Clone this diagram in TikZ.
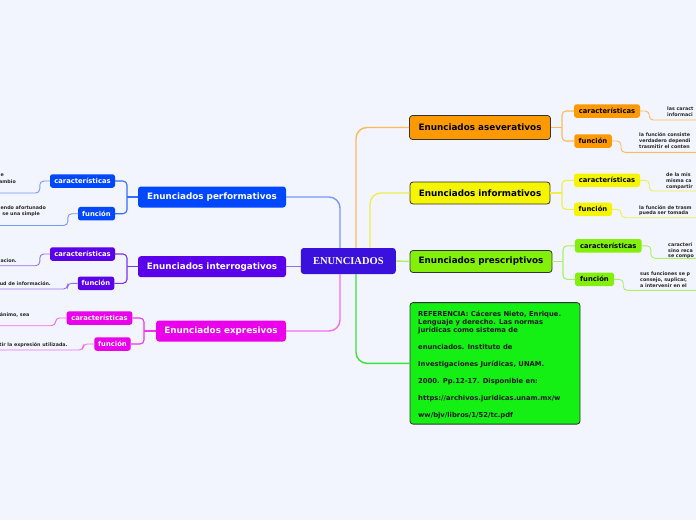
\documentclass[tikz,border=0pt]{standalone}
\usepackage{fontspec}
\setmainfont{DejaVu Sans}
\newfontfamily\titlefont{Liberation Serif}
\definecolor{bg}{RGB}{243,245,254}
\definecolor{cEnun}{RGB}{58,16,220}
\definecolor{cOr}{RGB}{255,153,0}
\definecolor{lOr}{RGB}{255,185,90}
\definecolor{cYe}{RGB}{245,245,0}
\definecolor{lYe}{RGB}{238,238,80}
\definecolor{cPr}{RGB}{130,240,10}
\definecolor{lPr}{RGB}{170,240,100}
\definecolor{cRef}{RGB}{20,240,20}
\definecolor{lRef}{RGB}{60,225,60}
\definecolor{cBl}{RGB}{0,72,255}
\definecolor{lBl}{RGB}{120,150,255}
\definecolor{cPu}{RGB}{90,0,235}
\definecolor{lPu}{RGB}{150,110,240}
\definecolor{cMa}{RGB}{235,0,235}
\definecolor{lMa}{RGB}{240,110,240}
\begin{document}
\begin{tikzpicture}[x=1pt,y=-1pt,
  mainR/.style={draw=black!80, line width=0.8pt, rounded corners=3pt, inner sep=0pt, font=\fontsize{8.8}{10}\selectfont\bfseries},
  mainL/.style={rounded corners=3pt, inner sep=0pt, text=white, font=\fontsize{8.8}{10}\selectfont\bfseries, minimum width=148pt, minimum height=21pt},
  subR/.style={rounded corners=2.5pt, inner sep=0pt, font=\fontsize{6.8}{8}\selectfont\bfseries, minimum height=13.5pt},
  subL/.style={subR, text=white},
  leafR/.style={inner sep=0pt, anchor=mid west, font=\fontsize{4.8}{6}\selectfont\bfseries, text=black!85},
  leafL/.style={leafR, anchor=mid east},
  reftxt/.style={inner sep=0pt, anchor=mid west, font=\fontsize{6.8}{8}\selectfont\bfseries, text=black!90},
  conn/.style={line width=1.4pt, rounded corners=11pt},
  brk/.style={line width=1.1pt, rounded corners=4pt},
  leafline/.style={line width=0.9pt, rounded corners=4pt},
]
\useasboundingbox (0,0) rectangle (696,520);
\fill[bg] (0,0) rectangle (696,520);
\clip (0,0) rectangle (696,520);

% central node
\node[fill=cEnun, rounded corners=3pt, inner sep=0pt, minimum width=95pt, minimum height=26pt, text=white, font=\titlefont\bfseries\fontsize{10.5}{12}\selectfont] (enun) at (348.3,261) {ENUNCIADOS};

% right main nodes
\node[mainR, fill=cOr, minimum width=141pt, minimum height=24pt] (asev) at (480,127.5) {Enunciados aseverativos};
\node[mainR, fill=cYe, minimum width=140pt, minimum height=22pt] (info) at (480,193) {Enunciados informativos};
\node[mainR, fill=cPr, minimum width=142pt, minimum height=22pt] (pres) at (481,261.5) {Enunciados prescriptivos};
\node[draw=black!80, line width=0.8pt, fill=cRef, rounded corners=3pt, minimum width=170pt, minimum height=121.5pt, inner sep=0pt] (ref) at (495,363.35) {};

% reference text
\node[reftxt] (r1) at (418,313.3) {REFERENCIA: Cáceres Nieto, Enrique.};
\node[reftxt] (r2) at (418,321.7) {Lenguaje y derecho. Las normas};
\node[reftxt] (r3) at (418,329.6) {jurídicas como sistema de};
\node[reftxt] (r4) at (418,346.8) {enunciados. Instituto de};
\node[reftxt] (r5) at (418,364) {Investigaciones Jurídicas, UNAM.};
\node[reftxt] (r6) at (418,380.7) {2000. Pp.12-17. Disponible en:};
\node[reftxt] (r7) at (418,397.7) {https://archivos.juridicas.unam.mx/w};
\node[reftxt] (r8) at (418,415) {ww/bjv/libros/1/52/tc.pdf};

% left main nodes
\node[mainL, fill=cBl] (perf) at (212,197) {Enunciados performativos};
\node[mainL, fill=cPu] (inte) at (212,266.7) {Enunciados interrogativos};
\node[mainL, fill=cMa, minimum width=130pt] (expr) at (221,331) {Enunciados expresivos};

% right sub nodes
\node[subR, fill=cOr, minimum width=66pt] (asevC) at (607,111) {características};
\node[subR, fill=cOr, minimum width=37.5pt] (asevF) at (593,141) {función};
\node[subR, fill=cYe, minimum width=66pt] (infoC) at (607,180.3) {características};
\node[subR, fill=cYe, minimum width=38pt] (infoF) at (593,209.3) {función};
\node[subR, fill=cPr, minimum width=66.7pt] (presC) at (608.3,245.8) {características};
\node[subR, fill=cPr, minimum width=39pt] (presF) at (594.5,279.3) {función};

% left sub nodes
\node[subL, fill=cBl, minimum width=65pt] (perfC) at (82.5,181) {características};
\node[subL, fill=cBl, minimum width=37pt] (perfF) at (96.5,213.7) {función};
\node[subL, fill=cPu, minimum width=65pt] (inteC) at (82.5,254) {características};
\node[subL, fill=cPu, minimum width=36.5pt] (inteF) at (96,283.3) {función};
\node[subL, fill=cMa, minimum width=65.6pt] (exprC) at (99.5,318) {características};
\node[subL, fill=cMa, minimum width=36.4pt] (exprF) at (112.5,344) {función};

% main connectors
\coordinate (sOr) at (356,247.9);
\coordinate (sYe) at (370,247.9);
\coordinate (sBl) at (340,247.9);
\coordinate (sMa) at (340,274.1);
\coordinate (sRef) at (356,274.1);
\draw[conn, lOr] (sOr) |- (asev.west);
\draw[conn, lYe] (sYe) |- (info.west);
\draw[conn, lBl] (sBl) |- (perf.east);
\draw[conn, lMa] (sMa) |- (expr.east);
\draw[conn, lRef] (sRef) |- (ref.west);
\draw[conn, lPr] (enun.east) -- (pres.west);
\draw[conn, lPu] (enun.west |- inte.east) -- (inte.east);

% brackets right
\coordinate (bA) at (562,127.5);
\coordinate (bI) at (562,193);
\coordinate (bP) at (563,261.5);
\draw[brk, lOr] (asev.east) -- (bA);
\draw[brk, lOr] (asevC.west) -| (bA);
\draw[brk, lOr] (asevF.west) -| (bA);
\draw[brk, lYe] (info.east) -- (bI);
\draw[brk, lYe] (infoC.west) -| (bI);
\draw[brk, lYe] (infoF.west) -| (bI);
\draw[brk, lPr] (pres.east) -- (bP);
\draw[brk, lPr] (presC.west) -| (bP);
\draw[brk, lPr] (presF.west) -| (bP);

% brackets left
\coordinate (bPe) at (127,197);
\coordinate (bIn) at (127,266.7);
\coordinate (bEx) at (144,331);
\draw[brk, cBl!80!white] (perf.west) -- (bPe);
\draw[brk, cBl!80!white] (perfC.east) -| (bPe);
\draw[brk, cBl!80!white] (perfF.east) -| (bPe);
\draw[brk, cPu!80!white] (inte.west) -- (bIn);
\draw[brk, cPu!80!white] (inteC.east) -| (bIn);
\draw[brk, cPu!80!white] (inteF.east) -| (bIn);
\draw[brk, cMa!80!white] (expr.west) -- (bEx);
\draw[brk, cMa!80!white] (exprC.east) -| (bEx);
\draw[brk, cMa!80!white] (exprF.east) -| (bEx);

% leaf underlines right
\coordinate (eA1) at (700,120);
\coordinate (eA2) at (700,152.3);
\coordinate (eI1) at (700,191);
\coordinate (eI2) at (700,217.7);
\coordinate (eP1) at (700,258.3);
\coordinate (eP2) at (700,290.3);
\draw[leafline, lOr] (asevC.east) -- ++(9,0) |- (eA1);
\draw[leafline, lOr] (asevF.east) -- ++(9,0) |- (eA2);
\draw[leafline, lYe] (infoC.east) -- ++(9,0) |- (eI1);
\draw[leafline, lYe] (infoF.east) -- ++(9,0) |- (eI2);
\draw[leafline, lPr] (presC.east) -- ++(9,0) |- (eP1);
\draw[leafline, lPr] (presF.east) -- ++(9,0) |- (eP2);

% leaf underlines left
\coordinate (ePe1) at (-5,193);
\coordinate (ePe2) at (-5,225.5);
\coordinate (eIn1) at (-5,265.7);
\coordinate (eIn2) at (-5,289);
\coordinate (eEx1) at (-5,325.7);
\coordinate (eEx2) at (-5,350);
\draw[leafline, lBl] (perfC.west) -- ++(-10,0) |- (ePe1);
\draw[leafline, lBl] (perfF.west) -- ++(-10,0) |- (ePe2);
\draw[leafline, lPu] (inteC.west) -- ++(-10,0) |- (eIn1);
\draw[leafline, lPu] (inteF.west) -- ++(-10,0) |- (eIn2);
\draw[leafline, lMa] (exprC.west) -- ++(-11,0) |- (eEx1);
\draw[leafline, lMa] (exprF.west) -- ++(-11,0) |- (eEx2);

% leaf texts right
\node[leafR] (ta1) at (667,107.7) {las caract};
\node[leafR] (ta2) at (667,114) {informaci};
\node[leafR] (tb1) at (639,134) {la función consiste};
\node[leafR] (tb2) at (639,140) {verdadero dependi};
\node[leafR] (tb3) at (639,146) {trasmitir el conten};
\node[leafR] (tc1) at (666,174) {de la mis};
\node[leafR] (tc2) at (666,179.8) {misma ca};
\node[leafR] (tc3) at (666,185.7) {compartir};
\node[leafR] (td1) at (639,206.3) {la función de trasm};
\node[leafR] (td2) at (639,212) {pueda ser tomada};
\node[leafR] (te1) at (668,244) {caracterí};
\node[leafR] (te2) at (668,249.3) {sino reca};
\node[leafR] (te3) at (668,254.5) {se compo};
\node[leafR] (tf1) at (640,272.3) {sus funciones se p};
\node[leafR] (tf2) at (640,278.3) {consejo, suplicar,};
\node[leafR] (tf3) at (640,284.3) {a intervenir en el};

% leaf texts left
\node[leafL] (tg1) at (4,173.7) {e};
\node[leafL] (tg2) at (16,180.5) {ambio};
\node[leafL] (th1) at (46,207.2) {endo afortunado};
\node[leafL] (th2) at (40,213.2) {se una simple};
\node[leafL] (ti1) at (17,260) {acion.};
\node[leafL] (tj1) at (51,282.8) {ud de información.};
\node[leafL] (tk1) at (29.5,314) {ánimo, sea};
\node[leafL] (tl1) at (67.7,343.3) {tir la expresión utilizada.};
\end{tikzpicture}
\end{document}
